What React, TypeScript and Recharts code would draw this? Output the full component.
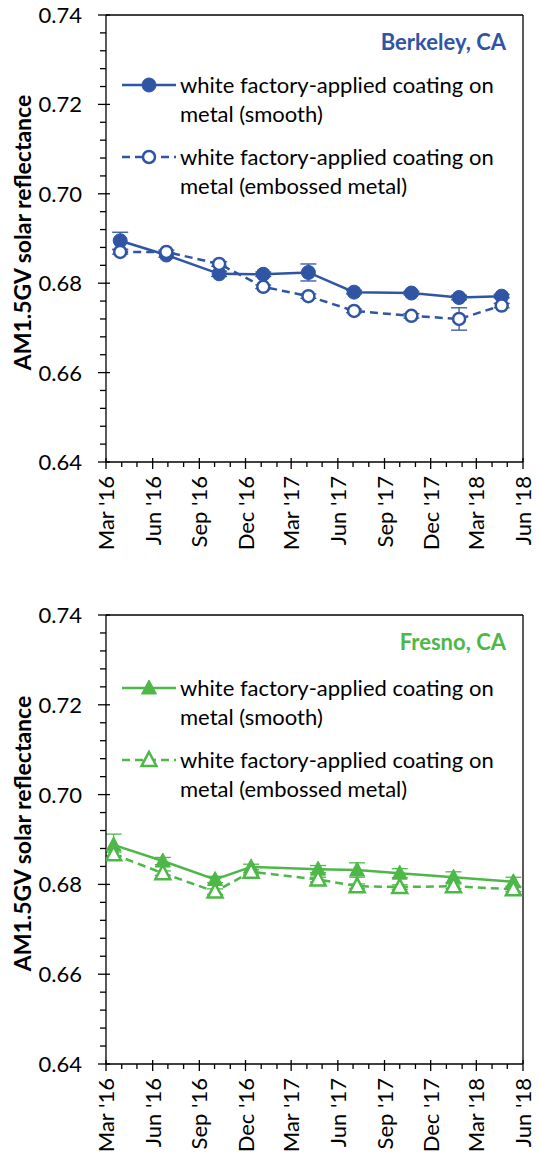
import React from 'react';
import { LineChart, Line, XAxis, YAxis, ErrorBar, Legend, ReferenceLine, Label } from 'recharts';

const berkeleyDates = ['2016-03-29', '2016-06-28', '2016-10-10', '2017-01-05', '2017-04-04', '2017-07-03', '2017-10-24', '2018-01-26', '2018-04-20'];
const berkeleySmooth = [0.6895, 0.6863, 0.6821, 0.682, 0.6824, 0.678, 0.6778, 0.6768, 0.6771];
const berkeleySmoothErr = [0.0019, 0.0005, 0.0006, 0.0005, 0.0019, 0.0004, 0.0004, 0.0005, 0.0004];
const berkeleyEmbossed = [0.687, 0.687, 0.6843, 0.6792, 0.6771, 0.6738, 0.6727, 0.672, 0.675];
const berkeleyEmbossedErr = [0.0005, 0.0004, 0.0005, 0.0004, 0.0005, 0.0004, 0.0005, 0.0025, 0.0005];

const fresnoDates = ['2016-03-16', '2016-06-21', '2016-10-02', '2016-12-12', '2017-04-23', '2017-07-09', '2017-10-01', '2018-01-15', '2018-05-13'];
const fresnoSmooth = [0.6888, 0.6852, 0.6811, 0.6839, 0.6834, 0.6832, 0.6825, 0.6816, 0.6806];
const fresnoSmoothErr = [0.0024, 0.0008, 0.0007, 0.0006, 0.0008, 0.0016, 0.001, 0.0012, 0.001];
const fresnoEmbossed = [0.6867, 0.6825, 0.6784, 0.6828, 0.6811, 0.6796, 0.6794, 0.6796, 0.6789];
const fresnoEmbossedErr = [0.0005, 0.0005, 0.0006, 0.0005, 0.0005, 0.0005, 0.0005, 0.0005, 0.0005];

const seriesNames = ['white factory-applied coating on metal (smooth)', 'white factory-applied coating on metal (embossed metal)'];

const xMajorTicks = ['2016-03-01', '2016-06-01', '2016-09-01', '2016-12-01', '2017-03-01', '2017-06-01', '2017-09-01', '2017-12-01', '2018-03-01', '2018-06-01'];
const xTickLabels = ["Mar '16", "Jun '16", "Sep '16", "Dec '16", "Mar '17", "Jun '17", "Sep '17", "Dec '17", "Mar '18", "Jun '18"];
const yTickLabels = ['0.64', '0.66', '0.68', '0.70', '0.72', '0.74'];

const BLUE = '#2F55A4';
const GREEN = '#4DB848';
const FONT = 'Lato, sans-serif';

const t = (s: string) => Date.parse(s);
const xMin = t(xMajorTicks[0]);
const xMax = t(xMajorTicks[xMajorTicks.length - 1]);

// monthly minor ticks between the first and last major tick
const monthTicks: number[] = [];
for (let y = 2016, m = 2; Date.UTC(y, m, 1) <= xMax; m++) {
  if (m > 11) { m = 0; y++; }
  monthTicks.push(Date.UTC(y, m, 1));
}
const majorSet = xMajorTicks.map(t);

const yTicks: number[] = [];
for (let i = 0; i <= 25; i++) yTicks.push(Math.round((0.64 + i * 0.004) * 1000) / 1000);

const XTick = (props: any) => {
  const { x, y, payload } = props;
  const idx = majorSet.indexOf(payload.value);
  if (idx < 0) {
    return <line x1={x} x2={x} y1={y} y2={y + 5} stroke="#000" strokeWidth={1.3} />;
  }
  return (
    <g>
      <line x1={x} x2={x} y1={y - 4} y2={y + 7} stroke="#000" strokeWidth={1.3} />
      <text transform={`translate(${x + 8},${y + 14}) rotate(-90)`} textAnchor="end" fontSize={22} fontFamily={FONT} fill="#000">
        {xTickLabels[idx]}
      </text>
    </g>
  );
};

const YTick = (props: any) => {
  const { x, y, payload } = props;
  const k = Math.round(payload.value * 1000);
  if (k % 20 !== 0) {
    return <line x1={x - 6} x2={x} y1={y} y2={y} stroke="#000" strokeWidth={1.3} />;
  }
  return (
    <g>
      <line x1={x - 8} x2={x + 4} y1={y} y2={y} stroke="#000" strokeWidth={1.3} />
      <text x={x - 24} y={y} dy="0.36em" textAnchor="end" fontSize={22} fontFamily={FONT} fill="#000">
        {yTickLabels[(k - 640) / 20]}
      </text>
    </g>
  );
};

const YLabel = (props: any) => {
  const vb = props.viewBox;
  const cx = vb.x + 23;
  const cy = vb.y + vb.height / 2 - 6;
  return (
    <text transform={`translate(${cx},${cy}) rotate(-90)`} textAnchor="middle" dy="0.36em" fontSize={23} fontWeight={700} fontFamily={FONT} fill="#000">
      AM1.5GV solar reflectance
    </text>
  );
};

const Marker = ({ cx, cy, shape, hollow, color }: any) => {
  if (cx == null || cy == null) return null;
  if (shape === 'circle') {
    return hollow
      ? <circle cx={cx} cy={cy} r={6} fill="#fff" stroke={color} strokeWidth={2.5} />
      : <circle cx={cx} cy={cy} r={7} fill={color} stroke={color} strokeWidth={1} />;
  }
  const pts = `${cx},${cy - 8} ${cx + 7.5},${cy + 6} ${cx - 7.5},${cy + 6}`;
  return <polygon points={pts} fill={hollow ? '#fff' : color} stroke={color} strokeWidth={hollow ? 2.5 : 1} strokeLinejoin="miter" />;
};

const LegendBox = ({ payload, shape, color }: any) => {
  const items = [...(payload || [])].sort((a: any, b: any) => seriesNames.indexOf(a.value) - seriesNames.indexOf(b.value));
  return (
    <div style={{ fontFamily: FONT, fontSize: 22, lineHeight: '28.5px', color: '#000', textAlign: 'left' }}>
      {items.map((entry: any) => {
        const hollow = seriesNames.indexOf(entry.value) === 1;
        return (
          <div key={entry.value} style={{ display: 'flex', alignItems: 'flex-start', marginBottom: 15 }}>
            <svg width={58} height={28} style={{ flex: 'none' }}>
              <line x1={0} x2={54} y1={14} y2={14} stroke={color} strokeWidth={2.5} strokeDasharray={hollow ? '8 5' : undefined} />
              <Marker cx={27} cy={14} shape={shape} hollow={hollow} color={color} />
            </svg>
            <div style={{ width: 340 }}>{entry.value}</div>
          </div>
        );
      })}
    </div>
  );
};

type SiteProps = {
  title: string;
  color: string;
  shape: 'circle' | 'triangle';
  dates: string[];
  smooth: number[];
  smoothErr: number[];
  embossed: number[];
  embossedErr: number[];
  height: number;
  xHeight: number;
  legendTop: number;
};

const SiteChart = ({ title, color, shape, dates, smooth, smoothErr, embossed, embossedErr, height, xHeight, legendTop }: SiteProps) => {
  const data = dates.map((d, i) => ({
    t: t(d),
    smooth: smooth[i],
    smoothErr: smoothErr[i],
    embossed: embossed[i],
    embossedErr: embossedErr[i],
  }));
  return (
    <div style={{ position: 'relative', width: 539, height }}>
      <LineChart width={539} height={height} data={data} margin={{ top: 15, right: 16, bottom: 0, left: 0 }}>
        <XAxis dataKey="t" type="number" domain={[xMin, xMax]} ticks={monthTicks} interval={0} tick={<XTick />}
          tickLine={false} tickSize={0} tickMargin={0} height={xHeight} axisLine={{ stroke: '#000', strokeWidth: 1.3 }} allowDataOverflow />
        <YAxis type="number" domain={[0.64, 0.74]} ticks={yTicks} interval={0} tick={<YTick />} tickLine={false}
          tickSize={0} tickMargin={0} width={106} axisLine={{ stroke: '#000', strokeWidth: 1.3 }} allowDataOverflow>
          <Label content={<YLabel />} />
        </YAxis>
        <ReferenceLine y={0.74} stroke="#000" strokeWidth={1.3} />
        <ReferenceLine x={xMax} stroke="#000" strokeWidth={1.3} />
        <Legend layout="horizontal" verticalAlign="middle" align="center" content={<LegendBox shape={shape} color={color} />}
          wrapperStyle={{ top: legendTop, left: 122, width: 410 }} />
        <Line name={seriesNames[0]} dataKey="smooth" stroke={color} strokeWidth={2.5} isAnimationActive={false}
          dot={(p: any) => <Marker key={`s${p.index}`} cx={p.cx} cy={p.cy} shape={shape} color={color} />} activeDot={false}>
          <ErrorBar dataKey="smoothErr" width={8} strokeWidth={1.3} stroke={color} direction="y" />
        </Line>
        <Line name={seriesNames[1]} dataKey="embossed" stroke={color} strokeWidth={2.5} strokeDasharray="8 5" isAnimationActive={false}
          dot={(p: any) => <Marker key={`e${p.index}`} cx={p.cx} cy={p.cy} shape={shape} hollow color={color} />} activeDot={false}>
          <ErrorBar dataKey="embossedErr" width={8} strokeWidth={1.3} stroke={color} direction="y" />
        </Line>
      </LineChart>
      <div style={{ position: 'absolute', right: 33, top: 29, fontFamily: FONT, fontWeight: 700, fontSize: 22, color, lineHeight: '26px' }}>
        {title}
      </div>
    </div>
  );
};

export default function App() {
  return (
    <div style={{ position: 'absolute', left: 0, top: 0, width: 539, height: 1158, background: '#fff' }}>
      <div style={{ position: 'absolute', left: 0, top: 0 }}>
        <SiteChart title="Berkeley, CA" color={BLUE} shape="circle" dates={berkeleyDates} smooth={berkeleySmooth}
          smoothErr={berkeleySmoothErr} embossed={berkeleyEmbossed} embossedErr={berkeleyEmbossedErr}
          height={580} xHeight={118} legendTop={71} />
      </div>
      <div style={{ position: 'absolute', left: 0, top: 600 }}>
        <SiteChart title="Fresno, CA" color={GREEN} shape="triangle" dates={fresnoDates} smooth={fresnoSmooth}
          smoothErr={fresnoSmoothErr} embossed={fresnoEmbossed} embossedErr={fresnoEmbossedErr}
          height={558} xHeight={94} legendTop={74} />
      </div>
    </div>
  );
}
